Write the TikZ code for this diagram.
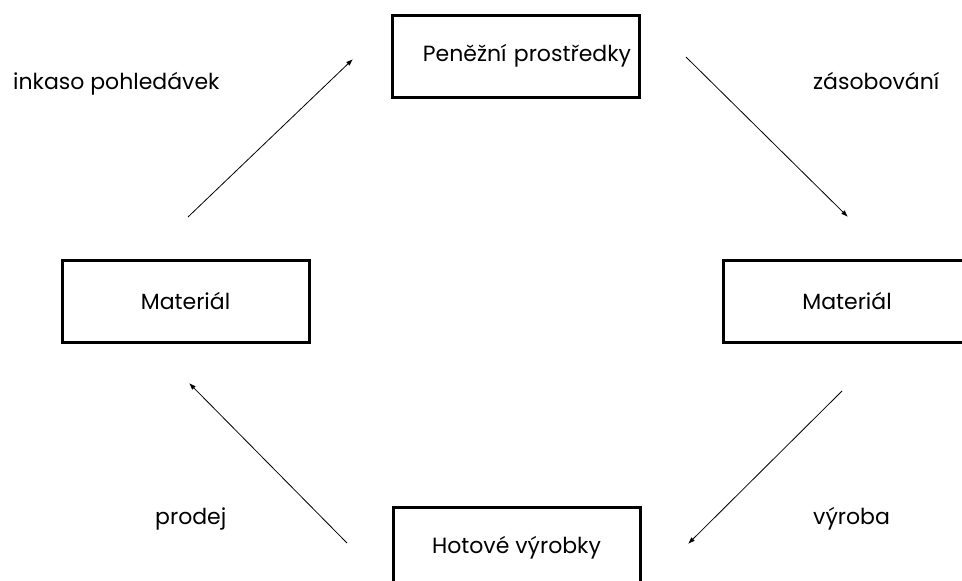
\documentclass[tikz,border=0pt]{standalone}
\usepackage{fontspec}
\setmainfont{Poppins}
\usetikzlibrary{arrows.meta,positioning}

\begin{document}
\begin{tikzpicture}[x=1pt, y=-1pt,
    box/.style={draw, line width=3pt, minimum width=247pt, minimum height=82pt, font=\fontsize{22}{26}\selectfont},
    lbl/.style={font=\fontsize{22}{26}\selectfont, inner sep=0pt, anchor=base west},
    flow/.style={line width=0.8pt, -{Latex[length=7pt,width=5pt]}}]
\clip (0,0) rectangle (962,581);
% the four stocks of the cycle
\node[box, text width=230pt, align=right] (cash) at (516,56) {Peněžní prostředky};
\node[box] (matL) at (185.5,301) {Materiál};
\node[box] (matR) at (847,301) {Materiál};
\node[box] (goods) at (516.5,548) {Hotové výrobky};
% flows between them
\coordinate (inkS) at (188,217); \coordinate (inkE) at (353,59);
\coordinate (zasS) at (686,57);  \coordinate (zasE) at (848,217);
\coordinate (vyrS) at (842,391); \coordinate (vyrE) at (688,544);
\coordinate (proS) at (347,543); \coordinate (proE) at (189,383);
\foreach \n in {ink,zas,vyr,pro}
    \draw[flow] (\n S) -- (\n E);
\node[lbl] (inkaso) at (13,89) {inkaso pohledávek};
\node[lbl] (zasobovani) at (813,89) {zásobování};
\node[lbl] (prodej) at (155,524) {prodej};
\node[lbl] (vyroba) at (813,524) {výroba};
\end{tikzpicture}
\end{document}
